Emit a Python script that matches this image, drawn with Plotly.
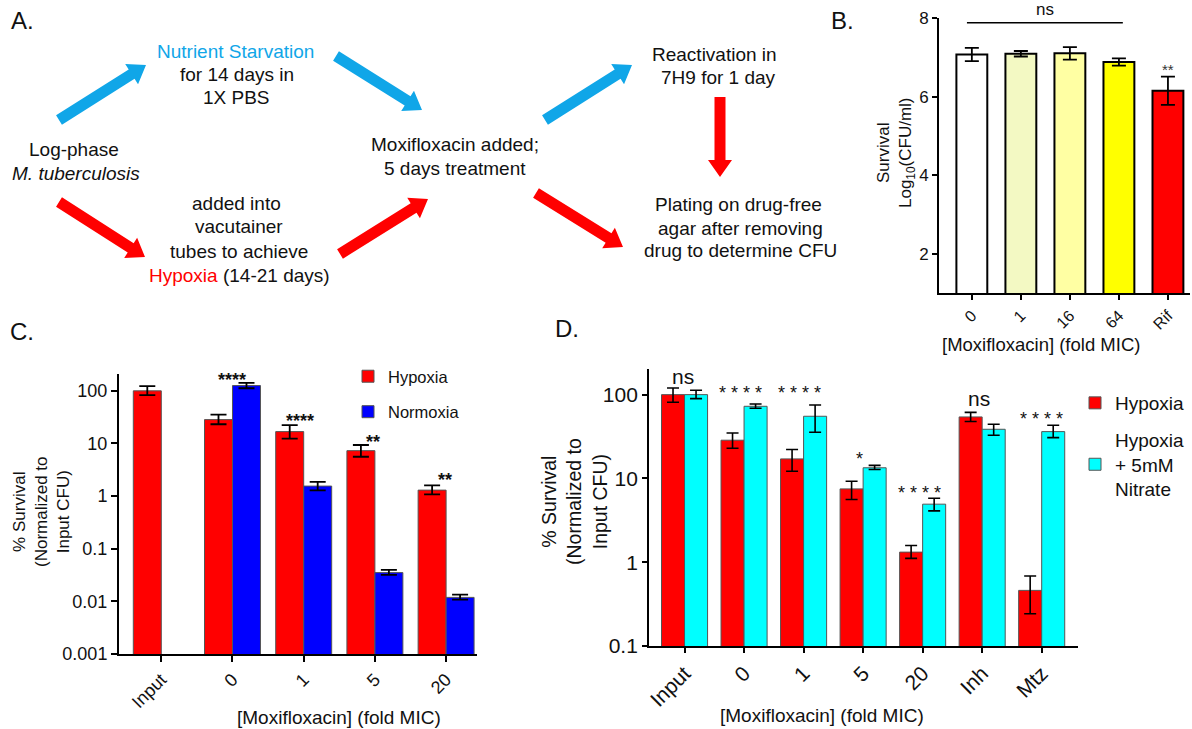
import plotly.graph_objects as go

W, H = 1192, 729
def px(x): return x / W
def py(y): return 1 - y / H

FONT = "Arial, Liberation Sans, sans-serif"

# ---------------- data ----------------
# Panel B
b_cats = ["0", "1", "16", "64", "Rif"]
b_vals = [7.07, 7.09, 7.10, 6.88, 6.15]
b_err = [0.17, 0.07, 0.16, 0.09, 0.36]
b_colors = ["#ffffff", "#f3f9c3", "#ffffa3", "#ffff00", "#ff0000"]

# Panel C
c_cats = ["Input", "0", "1", "5", "20"]
c_hyp = [100, 28.4, 16.8, 7.3, 1.30]
c_hyp_hi = [123, 35.4, 22.4, 9.35, 1.60]
c_hyp_lo = [82.6, 23.2, 12.4, 5.6, 1.08]
c_nor = [None, 126, 1.55, 0.0352, 0.0119]
c_nor_hi = [None, 142, 1.87, 0.0395, 0.0134]
c_nor_lo = [None, 112, 1.28, 0.032, 0.0108]

# Panel D
d_cats = ["Input", "0", "1", "5", "20", "Inh", "Mtz"]
d_hyp = [100, 28.6, 17.1, 7.5, 1.32, 54.2, 0.461]
d_hyp_hi = [120, 34.9, 22.1, 9.27, 1.58, 61.5, 0.684]
d_hyp_lo = [81, 22.9, 12.2, 5.6, 1.11, 47.7, 0.243]
d_nit = [100, 72.6, 55.2, 13.4, 4.93, 38.6, 36.2]
d_nit_hi = [112.6, 77.4, 75.3, 14.3, 5.81, 44.3, 43.1]
d_nit_lo = [89.6, 68.7, 35.6, 12.8, 4.1, 32.7, 30.7]

def up(v, hi): return [(h - x) if x is not None else 0 for x, h in zip(v, hi)]
def dn(v, lo): return [(x - l) if x is not None else 0 for x, l in zip(v, lo)]

fig = go.Figure()

# Panel B bars
fig.add_trace(go.Bar(
    x=b_cats, y=b_vals, xaxis="x", yaxis="y", width=0.63, offset=-0.315,
    marker=dict(color=b_colors, line=dict(color="black", width=2)),
    error_y=dict(type="data", array=b_err, color="black", thickness=1.8, width=7),
    showlegend=False))

# Panel C bars
fig.add_trace(go.Bar(
    x=c_cats, y=c_hyp, xaxis="x2", yaxis="y2", name="Hypoxia", width=0.393, offset=-0.393,
    marker=dict(color="#ff0000", line=dict(color="#555555", width=1)),
    error_y=dict(type="data", symmetric=False, array=up(c_hyp, c_hyp_hi),
                 arrayminus=dn(c_hyp, c_hyp_lo), color="black", thickness=1.8, width=8),
    legend="legend", legendgroup="c1"))
fig.add_trace(go.Bar(
    x=c_cats, y=c_nor, xaxis="x2", yaxis="y2", name="Normoxia", width=0.393, offset=0,
    marker=dict(color="#0000ff", line=dict(color="#555555", width=1)),
    error_y=dict(type="data", symmetric=False, array=up(c_nor, c_nor_hi),
                 arrayminus=dn(c_nor, c_nor_lo), color="black", thickness=1.8, width=8),
    legend="legend", legendgroup="c2"))

# Panel D bars
fig.add_trace(go.Bar(
    x=d_cats, y=d_hyp, xaxis="x3", yaxis="y3", name="Hypoxia", width=0.387, offset=-0.387,
    marker=dict(color="#ff0000", line=dict(color="#555555", width=1)),
    error_y=dict(type="data", symmetric=False, array=up(d_hyp, d_hyp_hi),
                 arrayminus=dn(d_hyp, d_hyp_lo), color="black", thickness=1.6, width=6),
    legend="legend2", legendgroup="d1"))
fig.add_trace(go.Bar(
    x=d_cats, y=d_nit, xaxis="x3", yaxis="y3", name="Hypoxia<br>+ 5mM<br>Nitrate",
    width=0.387, offset=0,
    marker=dict(color="#00ffff", line=dict(color="#555555", width=1)),
    error_y=dict(type="data", symmetric=False, array=up(d_nit, d_nit_hi),
                 arrayminus=dn(d_nit, d_nit_lo), color="black", thickness=1.6, width=6),
    legend="legend2", legendgroup="d2"))

axis_common = dict(showline=True, linecolor="black", showgrid=False, zeroline=False,
                   ticks="outside", tickcolor="black", fixedrange=True, automargin=False)

annotations = []
shapes = []

def note(text, x, y, size, color="#111111", angle=0):
    annotations.append(dict(text=text, x=px(x), y=py(y), xref="paper", yref="paper",
                            showarrow=False, xanchor="center", yanchor="middle",
                            textangle=angle, font=dict(size=size, color=color, family=FONT)))

# ---------------- Panel A (diagram) ----------------
BLUE = "#10a6e8"
RED = "#ff0000"
a_lines = [
    ("<span style='color:%s'>Nutrient Starvation</span>" % BLUE, 235, 52),
    ("for 14 days in", 237, 75),
    ("1X PBS", 236, 98),
    ("Log-phase", 74, 150),
    ("<i>M. tuberculosis</i>", 76, 173),
    ("added into", 236, 203),
    ("vacutainer", 239, 227),
    ("tubes to achieve", 239, 251),
    ("<span style='color:red'>Hypoxia</span> (14-21 days)", 239, 275),
    ("Moxifloxacin added;", 455, 145),
    ("5 days treatment", 455, 168),
    ("Reactivation in", 714, 54),
    ("7H9 for 1 day", 718, 77),
    ("Plating on drug-free", 738, 204),
    ("agar after removing", 740, 228),
    ("drug to determine CFU", 740, 250),
]
for t, x, y in a_lines:
    note(t, x, y, 19)

arrows = [
    ((59, 120), (146, 65), BLUE),
    ((336, 56), (422, 110), BLUE),
    ((545, 120), (632, 65), BLUE),
    ((59, 202), (145, 257), RED),
    ((340, 254), (428, 199), RED),
    ((536, 193), (623, 247), RED),
    ((720, 97), (720, 177), RED),
]
SHAFT, HEADW, HEADL = 11, 24, 17
for (x0, y0), (x1, y1), col in arrows:
    dx, dy = x1 - x0, y1 - y0
    L = (dx * dx + dy * dy) ** 0.5
    ux, uy = dx / L, dy / L
    nx, ny = -uy, ux
    bx, by = x1 - ux * HEADL, y1 - uy * HEADL
    pts = [
        (x0 + nx * SHAFT / 2, y0 + ny * SHAFT / 2),
        (bx + nx * SHAFT / 2, by + ny * SHAFT / 2),
        (bx + nx * HEADW / 2, by + ny * HEADW / 2),
        (x1, y1),
        (bx - nx * HEADW / 2, by - ny * HEADW / 2),
        (bx - nx * SHAFT / 2, by - ny * SHAFT / 2),
        (x0 - nx * SHAFT / 2, y0 - ny * SHAFT / 2),
    ]
    path = "M " + " L ".join("%.5f,%.5f" % (px(a), py(b)) for a, b in pts) + " Z"
    shapes.append(dict(type="path", path=path, xref="paper", yref="paper",
                       fillcolor=col, line=dict(width=0)))

# Panel letters
for t, x, y in [("A.", 22, 21), ("B.", 842, 21), ("C.", 22, 331), ("D.", 567, 328)]:
    note(t, x, y, 24)

# ---------------- Panel B decorations ----------------
shapes.append(dict(type="line", xref="x", yref="y", x0=-0.1, x1=3.08, y0=7.88, y1=7.88,
                   line=dict(color="black", width=1.5)))
annotations.append(dict(text="ns", x=1.5, y=8, yshift=9, xref="x", yref="y", showarrow=False,
                        font=dict(size=17, color="#111111", family=FONT)))
annotations.append(dict(text="**", x=4, y=6.68, xref="x", yref="y", showarrow=False,
                        font=dict(size=15, color="#333333", family=FONT)))
note("Survival<br>Log<sub>10</sub>(CFU/ml)", 896, 153, 17, angle=-90)
note("[Moxifloxacin] (fold MIC)", 1041, 345, 18.5)

# ---------------- Panel C decorations ----------------
for t, xi, yv, xs in [("****", 1, 2.205, 0), ("****", 2, 1.425, -4),
                      ("**", 3, 1.026, -2), ("**", 4, 0.304, -1)]:
    annotations.append(dict(text="<b>%s</b>" % t, x=xi, y=yv, xref="x2", yref="y2",
                            showarrow=False, xshift=xs,
                            font=dict(size=18, color="#111111", family=FONT)))
note("% Survival<br>(Normalized to<br>Input CFU)", 42, 512, 17, angle=-90)
note("[Moxifloxacin] (fold MIC)", 339, 717, 19)

# ---------------- Panel D decorations ----------------
for t, xi, yv, xs, fs in [("ns", 0, 2.215, -2, 21), ("* * * *", 1, 2.024, -4, 18),
                          ("* * * *", 2, 2.024, -4, 18), ("*", 3, 1.237, -4, 18),
                          ("* * * *", 4, 0.832, -3, 18), ("ns", 5, 1.952, -3, 21),
                          ("* * * *", 6, 1.714, 0, 18)]:
    annotations.append(dict(text=t, x=xi, y=yv, xref="x3", yref="y3", showarrow=False,
                            xshift=xs, font=dict(size=fs, color="#111111", family=FONT)))
note("% Survival<br>(Normalized to<br>Input CFU)", 574, 502, 19.5, angle=-90)
note("[Moxifloxacin] (fold MIC)", 822, 715, 19)

fig.update_layout(
    width=W, height=H, autosize=False,
    margin=dict(l=0, r=0, t=0, b=0, pad=0, autoexpand=False),
    paper_bgcolor="white", plot_bgcolor="white",
    font=dict(family=FONT, color="#111111"),
    barmode="group",
    xaxis=dict(axis_common, domain=[px(939), px(1190)], anchor="y", type="category",
               range=[-0.67, 4.45], tickangle=-45, ticklen=5, tickwidth=1.5, linewidth=2,
               tickfont=dict(size=16)),
    yaxis=dict(axis_common, domain=[py(293), py(18)], anchor="x", range=[1, 8],
               tickvals=[2, 4, 6, 8], ticklen=5, tickwidth=1.5, linewidth=2,
               tickfont=dict(size=17)),
    xaxis2=dict(axis_common, domain=[px(119), px(477)], anchor="y2", type="category",
                range=[-0.594, 4.434], tickangle=-45, ticklen=6, tickwidth=1.5, linewidth=2,
                tickfont=dict(size=18)),
    yaxis2=dict(axis_common, domain=[py(654), py(374)], anchor="x2", type="log",
                range=[-3, 2.32], tickvals=[0.001, 0.01, 0.1, 1, 10, 100],
                ticktext=["0.001", "0.01", "0.1", "1", "10", "100"],
                ticklen=6, tickwidth=1.5, linewidth=2, tickfont=dict(size=18)),
    xaxis3=dict(axis_common, domain=[px(649), px(1078)], anchor="y3", type="category",
                range=[-0.597, 6.61], tickangle=-45, ticklen=5, tickwidth=1.5, linewidth=1.8,
                tickfont=dict(size=21)),
    yaxis3=dict(axis_common, domain=[py(646), py(369)], anchor="x3", type="log",
                range=[-1, 2.306], tickvals=[0.1, 1, 10, 100],
                ticktext=["0.1", "1", "10", "100"],
                ticklen=5, tickwidth=1.5, linewidth=1.8, tickfont=dict(size=21)),
    legend=dict(x=px(348), y=py(359), xanchor="left", yanchor="top",
                font=dict(size=16.5, family=FONT), bgcolor="rgba(0,0,0,0)",
                tracegroupgap=11),
    legend2=dict(x=px(1075), y=py(384), xanchor="left", yanchor="top",
                 font=dict(size=19, family=FONT), bgcolor="rgba(0,0,0,0)",
                 tracegroupgap=9),
    annotations=annotations,
    shapes=shapes,
)

fig.write_html("out.html", config={"displayModeBar": False},
               post_script="document.body.style.margin='0px';")
